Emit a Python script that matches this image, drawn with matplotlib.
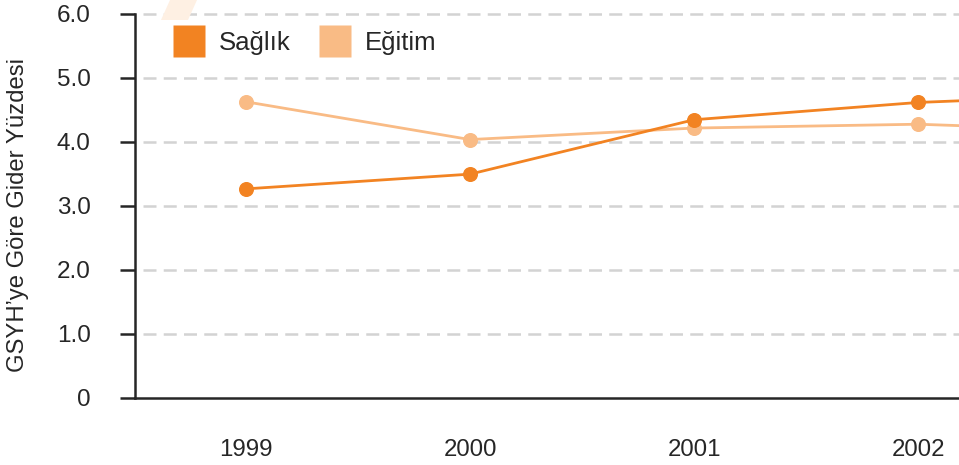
import matplotlib
matplotlib.use("Agg")
import matplotlib.pyplot as plt
from matplotlib.lines import Line2D
from matplotlib.patches import Polygon

plt.rcParams['font.family'] = ['Liberation Sans', 'DejaVu Sans']

years = [1999, 2000, 2001, 2002, 2003]
year_labels = ['1999', '2000', '2001', '2002']
saglik = [3.26, 3.49, 4.34, 4.61, 4.75]
egitim = [4.62, 4.03, 4.21, 4.27, 4.15]
series_names = ['Sağlık', 'Eğitim']
yticks = [0, 1, 2, 3, 4, 5, 6]
ytick_labels = ['0', '1.0', '2.0', '3.0', '4.0', '5.0', '6.0']

c_sag = '#F28322'
c_egi = '#F9BB85'
dark = '#262626'

W, H = 959, 465
fig = plt.figure(figsize=(W / 100, H / 100), dpi=100)
ax = fig.add_axes([135 / W, 1 - 397.5 / H, 1 - 135 / W, (397.5 - 13.5) / H])

# decoration
fig.patches.append(Polygon([(161 / W, 1 - 20 / H), (188 / W, 1 - 20 / H),
                            (197 / W, 1.0), (170 / W, 1.0)],
                           closed=True, transform=fig.transFigure,
                           facecolor='#FEF0E3', edgecolor='none', zorder=0))
ax.set_facecolor('none')

ax.set_xlim(1998.504, 2002.183)
ax.set_ylim(0, 6)

for v in yticks[1:]:
    ax.axhline(v, xmin=8 / 824, xmax=1, color='#D3D3D3', lw=1.8,
               linestyle=(0, (5.2, 2.9)), zorder=1, clip_on=False)

ax.plot(years, egitim, color=c_egi, lw=2.0, marker='o', markersize=9.8, zorder=3, clip_on=True)
ax.plot(years, saglik, color=c_sag, lw=2.0, marker='o', markersize=9.8, zorder=4, clip_on=True)

for s in ['top', 'right']:
    ax.spines[s].set_visible(False)
ax.spines['left'].set_color(dark)
ax.spines['bottom'].set_color(dark)
ax.spines['left'].set_linewidth(1.8)
ax.spines['bottom'].set_linewidth(1.8)

ax.set_yticks(yticks)
ax.set_yticklabels(ytick_labels)
ax.tick_params(axis='y', length=10.8, width=1.8, color=dark, pad=21,
               labelsize=17.5, labelcolor=dark)
ax.set_xticks(years[:4])
ax.set_xticklabels(year_labels)
ax.tick_params(axis='x', length=0, pad=30, labelsize=17.3, labelcolor=dark)

fig.text(18 / W, 1 - 215 / H, 'GSYH’ye Göre Gider Yüzdesi', rotation=90,
         ha='center', va='center', fontsize=17.2, color=dark)

handles = [Line2D([], [], linestyle='none', marker='s', markersize=22.5,
                  markerfacecolor=c_sag, markeredgecolor='none'),
           Line2D([], [], linestyle='none', marker='s', markersize=22.5,
                  markerfacecolor=c_egi, markeredgecolor='none')]
leg = ax.legend(handles, series_names, ncol=2, frameon=False,
                loc='upper left', bbox_to_anchor=((170 - 135) / 824, 1 - (31 - 13.5) / 384),
                fontsize=18.5, handlelength=1.45, handletextpad=0.45,
                columnspacing=1.0, borderaxespad=0, borderpad=0)
for t in leg.get_texts():
    t.set_color(dark)

fig.savefig('out.png', dpi=100)
